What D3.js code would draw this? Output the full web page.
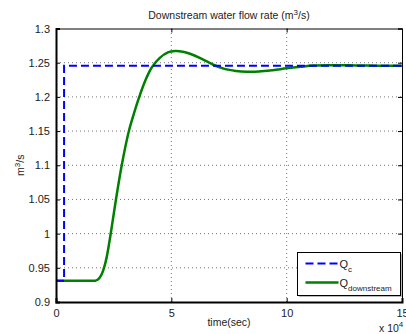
<!DOCTYPE html>
<html>
<head>
<meta charset="utf-8">
<script src="https://cdn.jsdelivr.net/npm/d3@7"></script>
<style>
  body { margin: 0; background: #fff; }
  text { font-family: "Liberation Sans", Arial, sans-serif; fill: #222; }
  .grid line { stroke: #777; stroke-dasharray: 1,3; stroke-width: 1; }
</style>
</head>
<body>
<div id="chart"></div>
<script>
// time in units of 1e4 seconds
const qcTime = [0, 0.35, 0.35, 15];
const qcValue = [0.931, 0.931, 1.2455, 1.2455];

const qdTime = [0, 1.0, 1.6, 1.7, 1.8, 1.9, 2.0, 2.1, 2.2, 2.3, 2.4, 2.6, 2.85, 3.16, 3.4, 3.61, 3.9, 4.15, 4.5, 4.85,
  5.16, 5.5, 5.81, 6.3, 6.82, 7.3, 7.8, 8.27, 8.8, 9.4, 10.0, 10.6, 11.15, 12, 13, 14, 15];
const qdValue = [0.931, 0.931, 0.931, 0.9312, 0.9325, 0.936, 0.942, 0.952, 0.966, 0.985, 1.006, 1.05, 1.10, 1.15, 1.178, 1.20, 1.226, 1.243, 1.257, 1.265,
  1.267, 1.266, 1.263, 1.256, 1.247, 1.241, 1.238, 1.2367, 1.237, 1.239, 1.2417, 1.244, 1.2458, 1.2462, 1.246, 1.2457, 1.2455];

const xTicks = [0, 5, 10, 15];
const yTicks = [0.9, 0.95, 1, 1.05, 1.1, 1.15, 1.2, 1.25, 1.3];

const width = 406, height = 334;
const margin = { top: 28.5, right: 4, bottom: 32, left: 56 };

const svg = d3.select('#chart').append('svg')
  .attr('width', width)
  .attr('height', height);

const x = d3.scaleLinear().domain([0, 15]).range([margin.left, width - margin.right]);
const y = d3.scaleLinear().domain([0.9, 1.3]).range([height - margin.bottom, margin.top]);

// grid
const grid = svg.append('g').attr('class', 'grid');
grid.selectAll('.gx').data(xTicks.slice(1, -1)).enter().append('line')
  .attr('x1', d => x(d)).attr('x2', d => x(d))
  .attr('y1', y(0.9)).attr('y2', y(1.3));
grid.selectAll('.gy').data(yTicks.slice(1, -1)).enter().append('line')
  .attr('x1', x(0)).attr('x2', x(15))
  .attr('y1', d => y(d)).attr('y2', d => y(d));

const line = d3.line().x(d => x(d[0])).y(d => y(d[1]));

svg.append('path')
  .datum(qdTime.map((t, i) => [t, qdValue[i]]))
  .attr('fill', 'none')
  .attr('stroke', '#008000')
  .attr('stroke-width', 2.5)
  .attr('d', line.curve(d3.curveCatmullRom.alpha(0.5)));

svg.append('path')
  .datum(qcTime.map((t, i) => [t, qcValue[i]]))
  .attr('fill', 'none')
  .attr('stroke', '#0000ff')
  .attr('stroke-width', 2)
  .attr('stroke-dasharray', '8,4')
  .attr('d', d3.line().x(d => x(d[0])).y(d => y(d[1])));

// axes (MATLAB style, inward ticks)
const xAxis = d3.axisBottom(x).tickValues(xTicks).tickSize(-4).tickPadding(7).tickFormat(d3.format('d'));
const xAxisTop = d3.axisTop(x).tickValues(xTicks).tickSize(-4).tickFormat('');
const yAxis = d3.axisLeft(y).tickValues(yTicks).tickSize(-4).tickPadding(6).tickFormat(d => String(d));
const yAxisRight = d3.axisRight(y).tickValues(yTicks).tickSize(-4).tickFormat('');

const styleAxis = g => {
  g.select('.domain').attr('stroke', '#000').attr('stroke-width', 1);
  g.selectAll('.tick line').attr('stroke', '#000');
  g.selectAll('text').attr('font-size', 11).attr('fill', '#222')
    .attr('font-family', '"Liberation Sans", Arial, sans-serif');
};

svg.append('g').attr('transform', `translate(0,${y(0.9)})`).call(xAxis).call(styleAxis)
  .select('.domain').attr('stroke-width', 2);
svg.append('g').attr('transform', `translate(0,${y(1.3)})`).call(xAxisTop).call(styleAxis);
svg.append('g').attr('transform', `translate(${x(0)},0)`).call(yAxis).call(styleAxis)
  .select('.domain').attr('stroke-width', 2);
svg.append('g').attr('transform', `translate(${x(15)},0)`).call(yAxisRight).call(styleAxis);

// title and labels
const title = svg.append('text')
  .attr('x', (x(0) + x(15)) / 2).attr('y', 19)
  .attr('text-anchor', 'middle').attr('font-size', 10.5);
title.append('tspan').text('Downstream water flow rate (m');
title.append('tspan').attr('font-size', 8).attr('dy', -4).text('3');
title.append('tspan').attr('dy', 4).text('/s)');

const ylab = svg.append('text')
  .attr('transform', `translate(24,${(y(0.9) + y(1.3)) / 2}) rotate(-90)`)
  .attr('text-anchor', 'middle').attr('font-size', 10.5);
ylab.append('tspan').text('m');
ylab.append('tspan').attr('font-size', 8).attr('dy', -4).text('3');
ylab.append('tspan').attr('dy', 4).text('/s');

svg.append('text')
  .attr('x', (x(0) + x(15)) / 2).attr('y', 326)
  .attr('text-anchor', 'middle').attr('font-size', 10.5)
  .text('time(sec)');

const expo = svg.append('text')
  .attr('x', 379).attr('y', 332).attr('font-size', 10.5);
expo.append('tspan').text('x 10');
expo.append('tspan').attr('font-size', 8).attr('dy', -5).text('4');

// legend
const lg = svg.append('g').attr('transform', 'translate(297.5,252.5)');
lg.append('rect').attr('x', 1.5).attr('y', 1.5).attr('width', 103).attr('height', 43).attr('fill', '#bbb');
lg.append('rect').attr('width', 103).attr('height', 43).attr('fill', '#fff').attr('stroke', '#000').attr('stroke-width', 1);
lg.append('line').attr('x1', 8).attr('x2', 41).attr('y1', 11).attr('y2', 11)
  .attr('stroke', '#0000ff').attr('stroke-width', 2).attr('stroke-dasharray', '8,4');
lg.append('line').attr('x1', 8).attr('x2', 41).attr('y1', 30).attr('y2', 30)
  .attr('stroke', '#008000').attr('stroke-width', 2.5);
const l1 = lg.append('text').attr('x', 42).attr('y', 15).attr('font-size', 11);
l1.append('tspan').text('Q');
l1.append('tspan').attr('font-size', 8).attr('dy', 4).text('c');
const l2 = lg.append('text').attr('x', 42).attr('y', 34).attr('font-size', 11);
l2.append('tspan').text('Q');
l2.append('tspan').attr('font-size', 8).attr('dy', 4).text('downstream');
</script>
</body>
</html>
